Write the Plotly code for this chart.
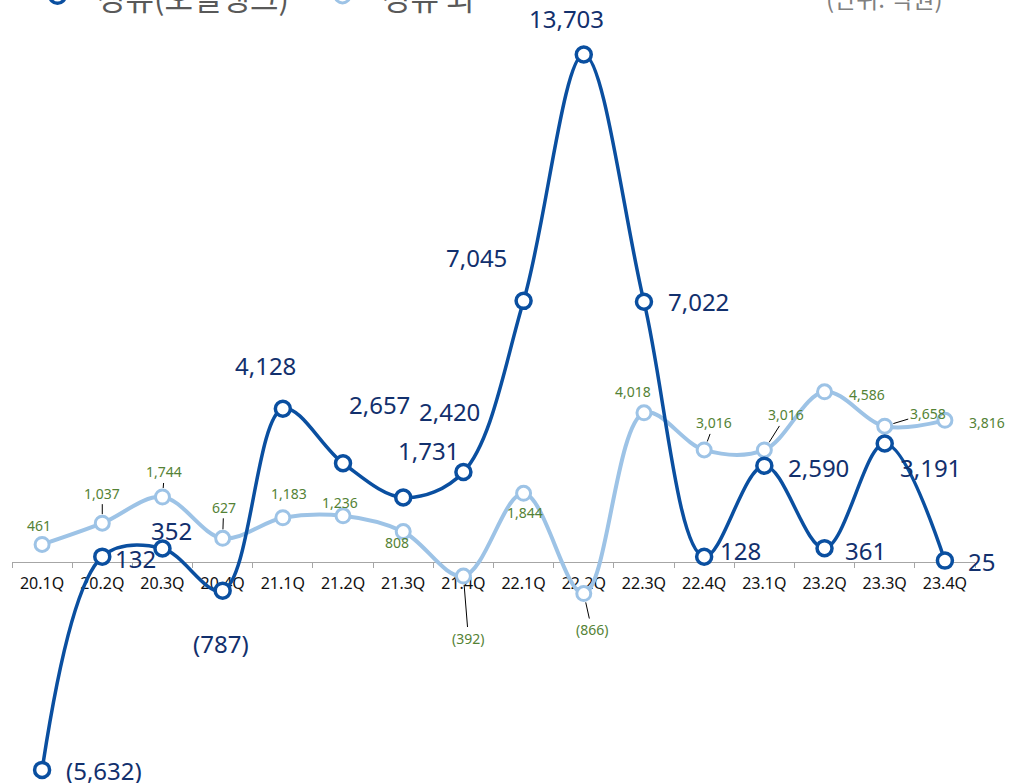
import plotly.graph_objects as go

# ---------------- data ----------------
quarters = ["20.1Q", "20.2Q", "20.3Q", "20.4Q", "21.1Q", "21.2Q", "21.3Q", "21.4Q",
            "22.1Q", "22.2Q", "22.3Q", "22.4Q", "23.1Q", "23.2Q", "23.3Q", "23.4Q"]
refinery = [-5632, 132, 352, -787, 4128, 2657, 1731, 2420,
            7045, 13703, 7022, 128, 2590, 361, 3191, 25]
non_refinery = [461, 1037, 1744, 627, 1183, 1236, 808, -392,
                1844, -866, 4018, 3016, 3016, 4586, 3658, 3816]
series_names = ["정유(오일뱅크)", "정유 외"]
unit_label = "(단위: 억원)"

# ---------------- label placement (pixel offsets, up = positive) ----------------
ref_dx = [62, 33, 9, -2, -17, 36, 25, -14, -47, -17, 55, 36, 54, 41, 46, 37]
ref_dy = [-1, -2, 18, -53, 43, 59, 47, 60, 43, 36, 0, 6, -2, -2, -24, -1]
non_dx = [-3, 0, 2, 1, 6, -3, -6, 5, 1, 8, -11, 10, 22, 42, 43, 42]
non_dy = [19, 30, 25, 31, 24, 13, -11, -62, -19, -36, 21, 27, 35, -3, 13, -2]
non_leader = [False, True, True, True, False, False, False, True,
              False, True, False, True, True, False, True, False]

# ---------------- styles ----------------
DARK = "#0a4fa0"
LIGHT = "#9dc3e6"
NAVY_TXT = "#12306d"
GREEN_TXT = "#548235"
NUM_FONT = "Noto Sans"
KR_FONT = "Noto Sans CJK KR"

W, H = 1028, 783
ML, MR, MT, MB = 12, 53, 0, 0
Y_RANGE = [-5986, 15176]
zero_pos = (0 - Y_RANGE[0]) / (Y_RANGE[1] - Y_RANGE[0])


def fmt(v):
    s = f"{abs(v):,}"
    return f"({s})" if v < 0 else s


fig = go.Figure()
fig.add_trace(go.Scatter(
    x=quarters, y=non_refinery, name=series_names[1], mode="lines+markers",
    line=dict(color=LIGHT, width=4, shape="spline", smoothing=1.0),
    marker=dict(size=14, color="white", line=dict(color=LIGHT, width=3)),
    cliponaxis=False, hoverinfo="x+y"))
fig.add_trace(go.Scatter(
    x=quarters, y=refinery, name=series_names[0], mode="lines+markers",
    line=dict(color=DARK, width=3.5, shape="spline", smoothing=1.0),
    marker=dict(size=15, color="white", line=dict(color=DARK, width=3.5)),
    cliponaxis=False, hoverinfo="x+y"))

annotations = []
for i, q in enumerate(quarters):
    annotations.append(dict(
        x=q, y=refinery[i], text=fmt(refinery[i]), showarrow=False,
        xshift=ref_dx[i], yshift=ref_dy[i], xanchor="center", yanchor="middle",
        font=dict(family=NUM_FONT, size=24, color=NAVY_TXT)))
for i, q in enumerate(quarters):
    base = dict(x=q, y=non_refinery[i], text=fmt(non_refinery[i]),
                font=dict(family=NUM_FONT, size=14, color=GREEN_TXT))
    if non_leader[i]:
        base.update(showarrow=True, ax=non_dx[i], ay=-non_dy[i], arrowhead=0,
                    arrowwidth=1, arrowcolor="black", standoff=9)
    else:
        base.update(showarrow=False, xshift=non_dx[i], yshift=non_dy[i],
                    xanchor="center", yanchor="middle")
    annotations.append(base)

# legend (drawn manually, partially above the visible page like the original)
pw = W - ML - MR
def px_x(p):
    return (p - ML) / pw

annotations.append(dict(xref="paper", yref="paper", x=px_x(95), y=1, yshift=4,
                        xanchor="left", yanchor="middle", showarrow=False,
                        text=series_names[0],
                        font=dict(family=KR_FONT, size=31, color="#595959")))
annotations.append(dict(xref="paper", yref="paper", x=px_x(380), y=1, yshift=4,
                        xanchor="left", yanchor="middle", showarrow=False,
                        text=series_names[1],
                        font=dict(family=KR_FONT, size=31, color="#595959")))
annotations.append(dict(xref="paper", yref="paper", x=px_x(945), y=1, yshift=3,
                        xanchor="right", yanchor="middle", showarrow=False,
                        text=unit_label,
                        font=dict(family=KR_FONT, size=24, color="#808080")))

shapes = []
for cx, col, lw, r in [(57.5, DARK, 3.5, 7.8), (342.5, LIGHT, 3, 7.5)]:
    shapes.append(dict(type="line", xref="paper", yref="paper", xsizemode="pixel",
                       ysizemode="pixel", xanchor=0, yanchor=1,
                       x0=cx - ML - 28, x1=cx - ML + 28, y0=4.5, y1=4.5,
                       line=dict(color=col, width=lw)))
    shapes.append(dict(type="circle", xref="paper", yref="paper", xsizemode="pixel",
                       ysizemode="pixel", xanchor=0, yanchor=1,
                       x0=cx - ML - r, x1=cx - ML + r, y0=4.5 - r, y1=4.5 + r,
                       fillcolor="white", line=dict(color=col, width=lw)))

fig.update_layout(
    width=W, height=H,
    margin=dict(l=ML, r=MR, t=MT, b=MB, autoexpand=False),
    paper_bgcolor="white", plot_bgcolor="white",
    showlegend=False,
    annotations=annotations, shapes=shapes,
    xaxis=dict(type="category", categoryorder="array", categoryarray=quarters,
               range=[-0.5, len(quarters) - 0.5], anchor="free", position=zero_pos,
               showline=True, linecolor="#a6a6a6", linewidth=1,
               ticks="outside", tickson="boundaries", ticklen=5, tickcolor="#a6a6a6",
               ticklabelstandoff=7,
               tickfont=dict(family=NUM_FONT, size=16, color="#111111"),
               showgrid=False, zeroline=False, layer="below traces", fixedrange=True),
    yaxis=dict(range=Y_RANGE, visible=False, showgrid=False, zeroline=False,
               fixedrange=True),
)

fig.write_html("out.html",
               config={"displayModeBar": False},
               post_script="document.body.style.margin='0';"
                           "document.body.style.overflow='hidden';")
